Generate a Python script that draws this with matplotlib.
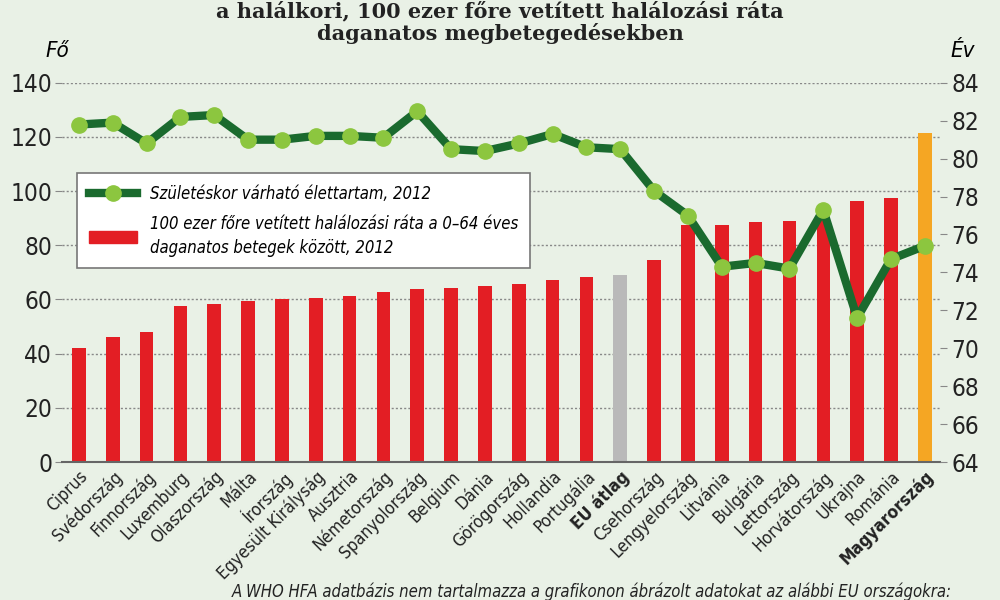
#!/usr/bin/env python3
import matplotlib
matplotlib.use('Agg')
import matplotlib.pyplot as plt
from matplotlib.lines import Line2D
from matplotlib.patches import Patch

# data
countries = ['Ciprus', 'Svédország', 'Finnország', 'Luxemburg', 'Olaszország',
             'Málta', 'Írország', 'Egyesült Királyság', 'Ausztria', 'Németország',
             'Spanyolország', 'Belgium', 'Dánia', 'Görögország', 'Hollandia',
             'Portugália', 'EU átlag', 'Csehország', 'Lengyelország', 'Litvánia',
             'Bulgária', 'Lettország', 'Horvátország', 'Ukrajna', 'Románia',
             'Magyarország']
mortality = [42.0, 46.3, 47.9, 57.7, 58.5, 59.4, 60.3, 60.6, 61.2, 62.8,
             63.8, 64.4, 65.0, 65.7, 67.3, 68.4, 69.1, 74.7, 87.4, 87.4,
             88.5, 89.0, 90.5, 96.2, 97.5, 121.3]
life_exp = [81.8, 81.9, 80.8, 82.2, 82.3, 81.0, 81.0, 81.2, 81.2, 81.1,
            82.5, 80.5, 80.4, 80.8, 81.3, 80.6, 80.5, 78.3, 77.0, 74.3,
            74.5, 74.2, 77.3, 71.6, 74.7, 75.4]
left_ticks = [0, 20, 40, 60, 80, 100, 120, 140]
right_ticks = [64, 66, 68, 70, 72, 74, 76, 78, 80, 82, 84]

bg = '#e9f1e6'
red = '#e31e24'
narrow = dict(family='DejaVu Sans', stretch='condensed')

colors = []
for c in countries:
    if c == 'EU átlag':
        colors.append('#b9b9b9')
    elif c == 'Magyarország':
        colors.append('#f5a623')
    else:
        colors.append(red)

fig = plt.figure(figsize=(10, 6), dpi=100, facecolor=bg)
ax = fig.add_axes([0.062, 0.23, 0.878, 0.632])
ax.set_facecolor(bg)
x = list(range(len(countries)))

ax.bar(x, mortality, width=0.4, color=colors, zorder=2)
ax.set_xlim(-0.5, len(countries) - 0.55)
ax.set_ylim(0, 140)
ax.set_yticks(left_ticks)
ax.set_yticklabels([str(t) for t in left_ticks], fontsize=17.5, color='#222222', **narrow)
ax.grid(axis='y', linestyle=(0, (1.5, 1.5)), color='#888888', linewidth=1.0, zorder=0)
for s in ['top', 'right', 'left']:
    ax.spines[s].set_visible(False)
ax.spines['bottom'].set_color('#666666')
ax.spines['bottom'].set_linewidth(1.5)
ax.tick_params(axis='y', length=5, color='#888888', pad=2)
ax.tick_params(axis='x', length=0, pad=4)
ax.set_xticks(x)
labels = ax.set_xticklabels(countries, rotation=45, ha='right', va='top',
                            rotation_mode='anchor', fontsize=12.5,
                            color='#222222', **narrow)
for lab in labels:
    if lab.get_text() in ('EU átlag', 'Magyarország'):
        lab.set_fontweight('bold')

ax2 = ax.twinx()
ax2.set_ylim(64, 84)
ax2.plot(x, life_exp, color='#1a6a2e', linewidth=6, marker='o', markersize=11,
         markerfacecolor='#8cc63f', markeredgecolor='#8cc63f', zorder=5)
ax2.set_yticks(right_ticks)
ax2.set_yticklabels([str(t) for t in right_ticks], fontsize=17.5, color='#222222', **narrow)
ax2.tick_params(axis='y', length=5, color='#888888', pad=3)
for s in ['top', 'right', 'left', 'bottom']:
    ax2.spines[s].set_visible(False)

handles = [Line2D([0], [0], color='#1a6a2e', linewidth=6, marker='o', markersize=11,
                  markerfacecolor='#8cc63f', markeredgecolor='#8cc63f'),
           Patch(color=red)]
leg = ax2.legend(handles,
                 ['Születéskor várható élettartam, 2012',
                  '100 ezer főre vetített halálozási ráta a 0–64 éves\ndaganatos betegek között, 2012'],
                 loc='upper left', bbox_to_anchor=(0.017, 0.762), borderaxespad=0,
                 frameon=True, fancybox=False, edgecolor='#777777', framealpha=1.0,
                 prop={'family': 'DejaVu Sans', 'stretch': 'condensed', 'style': 'italic', 'size': 12},
                 handlelength=2.9, handletextpad=0.8, borderpad=0.7, labelspacing=0.75)
for t in leg.get_texts():
    t.set_linespacing(1.4)
leg.get_frame().set_linewidth(1.2)
leg.set_zorder(10)

fig.text(0.045, 0.915, 'Fő', style='italic', fontsize=16, ha='left', va='center', **narrow)
fig.text(0.95, 0.915, 'Év', style='italic', fontsize=16, ha='left', va='center', **narrow)

fig.text(0.5, 0.998, 'a halálkori, 100 ezer főre vetített halálozási ráta\ndaganatos megbetegedésekben',
         family='DejaVu Serif', weight='bold', fontsize=15, ha='center', va='top',
         linespacing=1.05, color='#222222')
fig.text(0.232, 0.014, 'A WHO HFA adatbázis nem tartalmazza a grafikonon ábrázolt adatokat az alábbi EU országokra:',
         style='italic', fontsize=12, ha='left', va='center', color='#222222', **narrow)

fig.savefig('out.png', dpi=100, facecolor=bg)
